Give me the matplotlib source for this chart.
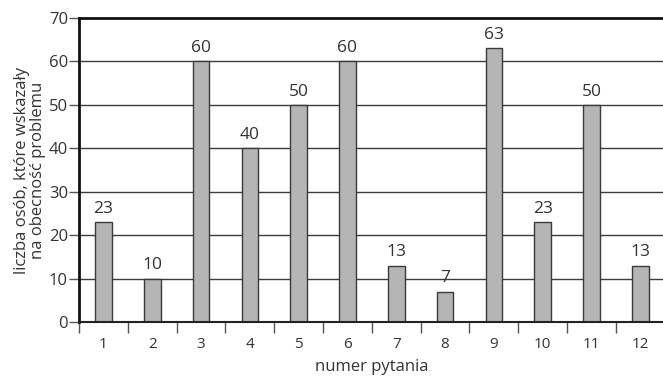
import numpy as np
import matplotlib

matplotlib.use("Agg")
import matplotlib.pyplot as plt

# dane
pytania = [str(i) for i in range(1, 13)]
liczba_osob = [23, 10, 60, 40, 50, 60, 13, 7, 63, 23, 50, 13]
y_ticks = [0, 10, 20, 30, 40, 50, 60, 70]

plt.rcParams["font.family"] = ["Open Sans", "DejaVu Sans"]

fig = plt.figure(figsize=(6.63, 3.79), dpi=100)
ax = fig.add_axes([0.1192, 0.1504, 0.8833, 0.8021])

x = np.arange(1, len(pytania) + 1)
ax.bar(x, liczba_osob, width=0.34, color="#b5b5b5", edgecolor="#3a3a3a", linewidth=1, zorder=3)

for xi, v in zip(x, liczba_osob):
    ax.text(xi, v + 1.2, str(v), ha="center", va="bottom", fontsize=12.5, color="#333333")

ax.set_xlim(0.5, 12.5)
ax.set_ylim(0, 70)

# siatka pozioma
for yv in y_ticks[1:-1]:
    ax.axhline(yv, color="#3c3c3c", linewidth=1, zorder=1)

ax.set_yticks(y_ticks)
ax.set_xticks(x)
ax.set_xticklabels(pytania)
ax.set_xticks(np.arange(0.5, 12.5, 1), minor=True)
ax.tick_params(axis="x", which="major", length=0, pad=11, labelsize=11, labelcolor="#333333")
ax.tick_params(axis="x", which="minor", length=8, width=1, color="#555555", direction="out")
ax.tick_params(axis="y", length=7, width=1, color="#555555", labelsize=12, labelcolor="#333333", pad=1)

ax.spines["right"].set_visible(False)
ax.spines["top"].set_linewidth(2)
ax.spines["top"].set_color("#111111")
ax.spines["left"].set_linewidth(2)
ax.spines["left"].set_color("#111111")
ax.spines["bottom"].set_linewidth(1.5)
ax.spines["bottom"].set_color("#222222")
ax.spines["bottom"].set_zorder(4)

ax.set_xlabel("numer pytania", fontsize=12, color="#333333", labelpad=5)
ax.set_ylabel("liczba osób, które wskazały\nna obecność problemu", fontsize=12,
              color="#333333", linespacing=1.0, labelpad=2)

fig.savefig("out.png", dpi=100)
